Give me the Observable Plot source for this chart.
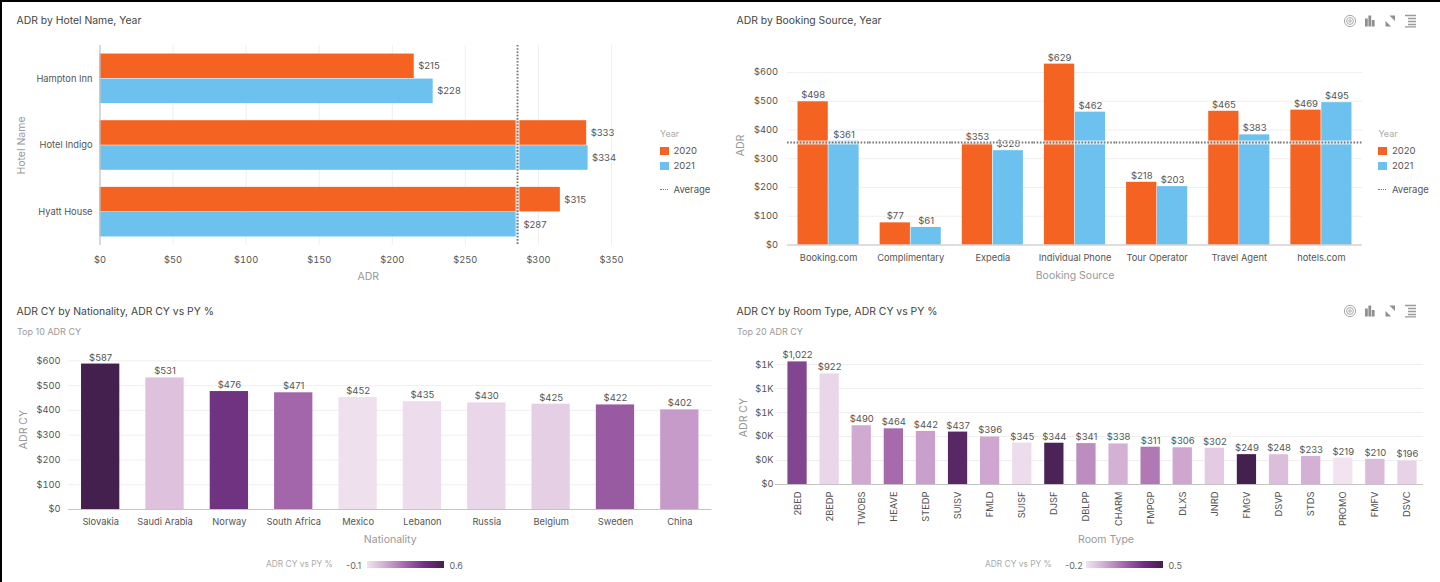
<!DOCTYPE html>
<html><head><meta charset="utf-8">
<script src="https://cdn.jsdelivr.net/npm/d3@7"></script>
<script src="https://cdn.jsdelivr.net/npm/@observablehq/plot@0.6"></script>
<style>
html,body{margin:0;padding:0;width:1440px;height:582px;overflow:hidden;background:#000;font-family:Inter,sans-serif}
#sheet{position:absolute;left:2px;top:2px;width:1438px;height:580px;background:#fff}
#root{position:absolute;left:0;top:0;width:1440px;height:582px}
.t{position:absolute;white-space:nowrap;line-height:1}
.title{font-size:10.4px;color:#444}
.sub{font-size:9px;color:#9a9a9a}
.lg{font-size:9px;color:#aaa}
.lgname{font-size:8.4px;color:#aaa}
.lgnum{font-size:9px;color:#666}
.li{font-size:9.5px;color:#555}
.sw{position:absolute;width:8.5px;height:8.5px}
.grad{position:absolute;height:7.6px;width:77px}
.dots{position:absolute;width:8px;height:0;border-top:1.5px dotted #777}
svg [aria-label$="axis label"] text, svg [aria-label$="axis label"]{font-size:10.5px;fill:#999}
</style></head><body>
<div id="sheet"></div><div id="root"></div>
<script>
const years = ["2020","2021"];
const yearColors = ["#F46321","#6DC1EE"];

const hotels = ["Hampton Inn","Hotel Indigo","Hyatt House"];
const hotelAdr2020 = [215,333,315];
const hotelAdr2021 = [228,334,287];
const hotelAverage = 285.7;

const sources = ["Booking.com","Complimentary","Expedia","Individual Phone","Tour Operator","Travel Agent","hotels.com"];
const sourceAdr2020 = [498,77,353,629,218,465,469];
const sourceAdr2021 = [361,61,328,462,203,383,495];
const sourceAverage = 356.5;

const nations = ["Slovakia","Saudi Arabia","Norway","South Africa","Mexico","Lebanon","Russia","Belgium","Sweden","China"];
const nationAdr = [587,531,476,471,452,435,430,425,422,402];
const nationPct = [0.6,0.0,0.42,0.25,-0.09,-0.08,-0.06,-0.04,0.29,0.11];

const rooms = ["2BED","2BEDP","TWOBS","HEAVE","STEDP","SUISV","FMLD","SUISF","DJSF","DBLPP","CHARM","FMPGP","DLXS","JNRD","FMGV","DSVP","STDS","PROMO","FMFV","DSVC"];
const roomAdr = [1022,922,490,464,442,437,396,345,344,341,338,311,306,302,249,248,233,219,210,196];
const roomPct = [0.26,-0.16,-0.03,0.14,0.0,0.42,-0.02,-0.18,0.47,0.05,-0.05,0.1,-0.02,-0.13,0.5,-0.09,-0.05,-0.2,-0.08,-0.15];

const purples = ["#F1E3EF","#CFA8D0","#A466AB","#6E3180","#44204F"];
const ink = "#555", gridColor = "#efefef", baseColor = "#c4c4c4", avgColor = "#777";
const baseStyle = {fontFamily:"Inter, sans-serif", fontSize:"9.3px", color:ink};
const usd = d => "$" + d3.format(",")(d);
const kFormat = d => d === 0 ? "$0" : "$" + Math.round(d / 1000) + "K";

const root = document.getElementById("root");
function place(svg, left, top){
  svg.style.position = "absolute"; svg.style.left = left + "px"; svg.style.top = top + "px";
  svg.style.background = "transparent"; svg.style.overflow = "visible"; svg.style.maxWidth = "none";
  root.appendChild(svg); return svg;
}
function txt(cls, s, x, cy){
  const d = document.createElement("div"); d.className = "t " + cls; d.textContent = s;
  d.style.left = x + "px"; d.style.top = cy + "px"; d.style.transform = "translateY(-50%)";
  root.appendChild(d); return d;
}
function box(cls, x, y, bg){
  const d = document.createElement("div"); d.className = cls;
  d.style.left = x + "px"; d.style.top = y + "px"; if (bg) d.style.background = bg;
  root.appendChild(d); return d;
}
const zip2 = (keys, a, b, name) => keys.flatMap((k,i) => [{[name]:k, year:years[0], adr:a[i]},{[name]:k, year:years[1], adr:b[i]}]);

/* Panel 1: facet rules are extended through the gaps between facets */
const hotelRows = zip2(hotels, hotelAdr2020, hotelAdr2021, "hotel");
const p1Ticks = d3.range(0,351,50);
const vExt = {insetTop:-8.55, insetBottom:-8.55};
place(Plot.plot({
  width:720, height:290, marginLeft:99.5, marginRight:84, marginTop:45, marginBottom:45,
  style:baseStyle,
  x:{domain:[0,350], range:[99.5,611]},
  y:{domain:years, axis:null, paddingInner:0.02, paddingOuter:0, round:false},
  fy:{domain:hotels, paddingInner:0.256, paddingOuter:0.128, round:false},
  color:{domain:years, range:yearColors},
  marks:[
    Plot.ruleX(p1Ticks,{...vExt, stroke:gridColor}),
    Plot.barX(hotelRows,{fy:"hotel", y:"year", x:"adr", fill:"year"}),
    Plot.text(hotelRows,{fy:"hotel", y:"year", x:"adr", text:d=>usd(d.adr), textAnchor:"start", dx:4, fill:ink, fontSize:9.5}),
    Plot.ruleX([0],{...vExt, stroke:baseColor, strokeWidth:1.2}),
    Plot.ruleX([hotelAverage],{...vExt, stroke:"#fff", strokeOpacity:0.75, strokeWidth:4}),
    Plot.ruleX([hotelAverage],{...vExt, stroke:avgColor, strokeWidth:1.9, strokeDasharray:"1.6,1.6"}),
    Plot.axisX({ticks:p1Ticks, tickFormat:usd, tickSize:0, tickPadding:19, label:"ADR", labelArrow:"none", labelAnchor:"center", labelOffset:43, stroke:"none", fill:ink}),
    Plot.axisFy({anchor:"left", tickSize:0, tickPadding:7.5, label:"Hotel Name", labelArrow:"none", labelAnchor:"center", labelOffset:82, fill:ink})
  ]
}),0,0);

/* Panel 2 */
const sourceRows = zip2(sources, sourceAdr2020, sourceAdr2021, "source");
const p2Ticks = d3.range(0,601,100);
const hExt = {insetLeft:-10.5, insetRight:-10.5};
place(Plot.plot({
  width:720, height:290, marginLeft:67, marginRight:78, marginTop:45.5, marginBottom:45.5,
  style:baseStyle,
  y:{domain:[0,692]},
  x:{domain:years, axis:null, paddingInner:0.02, paddingOuter:0, round:false},
  fx:{domain:sources, paddingInner:0.256, paddingOuter:0.128, round:false},
  color:{domain:years, range:yearColors},
  marks:[
    Plot.ruleY(p2Ticks,{...hExt, stroke:gridColor}),
    Plot.barY(sourceRows,{fx:"source", x:"year", y:"adr", fill:"year"}),
    Plot.text(sourceRows,{fx:"source", x:"year", y:"adr", text:d=>usd(d.adr), lineAnchor:"bottom", dy:-3.5, fill:ink, fontSize:9.5}),
    Plot.ruleY([0],{...hExt, stroke:baseColor, strokeWidth:1.2}),
    Plot.ruleY([sourceAverage],{...hExt, stroke:"#fff", strokeOpacity:0.7, strokeWidth:4}),
    Plot.ruleY([sourceAverage],{...hExt, stroke:avgColor, strokeWidth:1.9, strokeDasharray:"1.6,1.6"}),
    Plot.axisY({ticks:p2Ticks, tickFormat:usd, tickSize:0, tickPadding:20, label:"ADR", labelArrow:"none", labelAnchor:"center", labelOffset:61, fill:ink}),
    Plot.axisFx({anchor:"bottom", tickSize:0, tickPadding:9, label:"Booking Source", labelArrow:"none", labelAnchor:"center", labelOffset:34, fill:ink})
  ]
}),720,0);

/* Panel 3 */
const nationRows = nations.map((n,i)=>({nation:n, adr:nationAdr[i], pct:nationPct[i]}));
const p3Ticks = d3.range(0,601,100);
place(Plot.plot({
  width:720, height:292, marginLeft:68, marginRight:8.5, marginTop:59, marginBottom:73,
  style:baseStyle,
  y:{domain:[0,645.7]},
  x:{domain:nations, paddingInner:0.405, paddingOuter:0.2025, round:false},
  color:{type:"linear", domain:d3.range(5).map(i=>-0.1+i*0.175), range:purples, interpolate:"rgb"},
  marks:[
    Plot.ruleY(p3Ticks,{stroke:gridColor}),
    Plot.barY(nationRows,{x:"nation", y:"adr", fill:"pct"}),
    Plot.text(nationRows,{x:"nation", y:"adr", text:d=>usd(d.adr), lineAnchor:"bottom", dy:-3.5, fill:ink, fontSize:9.5}),
    Plot.ruleY([0],{stroke:baseColor, strokeWidth:1.2}),
    Plot.axisY({ticks:p3Ticks, tickFormat:usd, tickSize:0, tickPadding:8, label:"ADR CY", labelArrow:"none", labelAnchor:"center", labelOffset:49, fill:ink}),
    Plot.axisX({tickSize:0, tickPadding:9, label:"Nationality", labelArrow:"none", labelAnchor:"center", labelOffset:33, fill:ink})
  ]
}),0,290);

/* Panel 4 */
const roomRows = rooms.map((n,i)=>({room:n, adr:roomAdr[i], pct:roomPct[i]}));
const p4Ticks = d3.range(0,1001,200);
const p4 = place(Plot.plot({
  width:720, height:292, marginLeft:55, marginRight:17, marginTop:60, marginBottom:98,
  style:baseStyle,
  y:{domain:[0,1117]},
  x:{domain:rooms, paddingInner:0.4, paddingOuter:0.2, range:[61,703], round:false},
  color:{type:"linear", domain:d3.range(5).map(i=>-0.2+i*0.175), range:purples, interpolate:"rgb"},
  marks:[
    Plot.ruleY(p4Ticks,{stroke:gridColor}),
    Plot.barY(roomRows,{x:"room", y:"adr", fill:"pct"}),
    Plot.text(roomRows,{x:"room", y:"adr", text:d=>usd(d.adr), lineAnchor:"bottom", dy:-3.5, fill:ink, fontSize:9.5}),
    Plot.ruleY([0],{stroke:baseColor, strokeWidth:1.2}),
    Plot.axisY({ticks:p4Ticks, tickFormat:kFormat, tickSize:0, tickPadding:2, label:"ADR CY", labelArrow:"none", labelAnchor:"center", labelOffset:36, fill:ink}),
    Plot.axisX({tickSize:0, tickPadding:7, tickRotate:-90, label:"Room Type", labelArrow:"none", labelAnchor:"center", labelOffset:58, fill:ink})
  ]
}),720,290);
const roomLabel = p4.querySelector('[aria-label="x-axis label"] text');
if (roomLabel) roomLabel.setAttribute("dx", "6.5");

/* Titles */
txt("title","ADR by Hotel Name, Year",16.5,20.5);
txt("title","ADR by Booking Source, Year",736.5,20.5);
txt("title","ADR CY by Nationality, ADR CY vs PY %",16.5,311.5);
txt("title","ADR CY by Room Type, ADR CY vs PY %",736.5,311.5);
txt("sub","Top 10 ADR CY",17,331);
txt("sub","Top 20 ADR CY",737,331);

/* Year legends */
function yearLegend(x){
  txt("lg","Year",x,132.5);
  years.forEach((y,i)=>{
    box("sw",x,146.5+i*15,yearColors[i]);
    txt("li",y,x+13.5,150.7+i*15);
  });
  box("dots",x,188.5);
  txt("li","Average",x+13.5,189.7);
}
yearLegend(660); yearLegend(1378.4);

/* Colour legends */
function gradLegend(name,lo,hi,x){
  txt("lgname",name,x,564);
  txt("lgnum",String(lo),x+80,565);
  const g = box("grad",x+101.3,560.5);
  g.style.background = "linear-gradient(to right," + purples.join(",") + ")";
  txt("lgnum",String(hi),x+183.5,565);
}
gradLegend("ADR CY vs PY %",-0.1,0.6,266);
gradLegend("ADR CY vs PY %",-0.2,0.5,985);

/* Toolbar icons */
const iconMarkup = `<svg width="80" height="14" viewBox="0 0 80 14" fill="none" style="position:absolute;overflow:visible">
<g stroke="#a8a8a8"><circle cx="7" cy="7" r="5.6" stroke-width="1"/><circle cx="7" cy="7" r="3.4" stroke-width="1"/><circle cx="7" cy="7" r="1.2" stroke-width="1"/></g>
<g fill="#8f8f8f"><rect x="22" y="4.5" width="2.8" height="8"/><rect x="25.4" y="1.5" width="2.8" height="11"/><rect x="28.8" y="6" width="2.8" height="6.5"/></g>
<g fill="#8f8f8f"><path d="M42.5 12.5v-5.6l5.6 5.6zM52 1.5v5.6l-5.6-5.6z"/></g>
<g stroke="#9a9a9a" stroke-width="1.3"><path d="M62 1.5h11M65 4.5h8M65 7.5h8M65 10.5h8M62 12.8h11"/></g></svg>`;
[[1343,13.5],[1343,303.5]].forEach(([x,y])=>{
  const d = document.createElement("div");
  d.style.cssText = `position:absolute;left:${x}px;top:${y}px;width:80px;height:14px`;
  d.innerHTML = iconMarkup; root.appendChild(d);
});
</script>
</body></html>
